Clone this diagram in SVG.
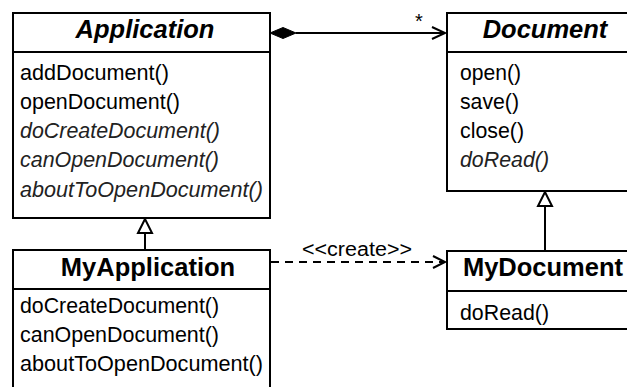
<svg xmlns="http://www.w3.org/2000/svg" width="627" height="387" viewBox="0 0 627 387">
  <style>
    .box { fill: #fff; stroke: #000; stroke-width: 2; }
    .div { stroke: #000; stroke-width: 2; }
    .title { font-family: "Liberation Sans", Arial, sans-serif; font-size: 25.5px; font-weight: bold; text-anchor: middle; fill: #000; }
    .abstract { font-style: italic; }
    .op { font-family: "Liberation Sans", Arial, sans-serif; font-size: 22.5px; fill: #000; }
    .op-abs { font-style: italic; fill: #222; }
    .line { fill: none; stroke: #000; stroke-width: 2; }
    .dash { stroke-dasharray: 8 6; }
    .lbl { font-family: "Liberation Sans", Arial, sans-serif; font-size: 20px; fill: #000; }
  </style>

  <g id="connectors">
    <!-- composition: Application <>-> Document -->
    <line class="line" x1="296" y1="33" x2="445" y2="33"/>
    <polygon points="270,33 283,27.5 296,33 283,38.5" fill="#000" stroke="#000" stroke-width="1"/>
    <polyline class="line" points="432,27 445,33 432,39"/>
    <text class="lbl" x="419" y="28" text-anchor="middle">*</text>

    <!-- generalization: MyApplication -> Application -->
    <line class="line" x1="145" y1="233" x2="145" y2="250"/>
    <polygon points="145,219 138,233 152,233" fill="#fff" stroke="#000" stroke-width="2"/>

    <!-- generalization: MyDocument -> Document -->
    <line class="line" x1="545" y1="206" x2="545" y2="251"/>
    <polygon points="545,192 538,206 552,206" fill="#fff" stroke="#000" stroke-width="2"/>

    <!-- dependency: MyApplication creates MyDocument -->
    <line class="line dash" x1="271" y1="262" x2="444" y2="262"/>
    <polyline class="line" points="433,256 445,262 433,268"/>
    <text class="lbl" x="302" y="256" textLength="110" lengthAdjust="spacingAndGlyphs">&lt;&lt;create&gt;&gt;</text>
  </g>

  <g id="Application">
    <rect class="box" x="13" y="13" width="257" height="205"/>
    <line class="div" x1="13" y1="52" x2="270" y2="52"/>
    <text class="title abstract" x="145" y="38">Application</text>
    <text class="op" x="20" y="80" textLength="149" lengthAdjust="spacingAndGlyphs">addDocument()</text>
    <text class="op" x="20" y="109" textLength="160" lengthAdjust="spacingAndGlyphs">openDocument()</text>
    <text class="op op-abs" x="20" y="138" textLength="200" lengthAdjust="spacingAndGlyphs">doCreateDocument()</text>
    <text class="op op-abs" x="20" y="167" textLength="199" lengthAdjust="spacingAndGlyphs">canOpenDocument()</text>
    <text class="op op-abs" x="20" y="197" textLength="243" lengthAdjust="spacingAndGlyphs">aboutToOpenDocument()</text>
  </g>

  <g id="Document">
    <rect class="box" x="447" y="13" width="200" height="178"/>
    <line class="div" x1="447" y1="52" x2="647" y2="52"/>
    <text class="title abstract" x="545" y="38">Document</text>
    <text class="op" x="460" y="80" textLength="61" lengthAdjust="spacingAndGlyphs">open()</text>
    <text class="op" x="460" y="109" textLength="59" lengthAdjust="spacingAndGlyphs">save()</text>
    <text class="op" x="460" y="138" textLength="64" lengthAdjust="spacingAndGlyphs">close()</text>
    <text class="op op-abs" x="460" y="167" textLength="89" lengthAdjust="spacingAndGlyphs">doRead()</text>
  </g>

  <g id="MyApplication">
    <rect class="box" x="13" y="250" width="257" height="150"/>
    <line class="div" x1="13" y1="289" x2="270" y2="289"/>
    <text class="title" x="148" y="276">MyApplication</text>
    <text class="op" x="20" y="313" textLength="199" lengthAdjust="spacingAndGlyphs">doCreateDocument()</text>
    <text class="op" x="20" y="342" textLength="199" lengthAdjust="spacingAndGlyphs">canOpenDocument()</text>
    <text class="op" x="20" y="371" textLength="243" lengthAdjust="spacingAndGlyphs">aboutToOpenDocument()</text>
  </g>

  <g id="MyDocument">
    <rect class="box" x="447" y="251" width="200" height="78"/>
    <line class="div" x1="447" y1="291" x2="647" y2="291"/>
    <text class="title" x="543" y="276">MyDocument</text>
    <text class="op" x="460" y="320" textLength="89" lengthAdjust="spacingAndGlyphs">doRead()</text>
  </g>
</svg>
